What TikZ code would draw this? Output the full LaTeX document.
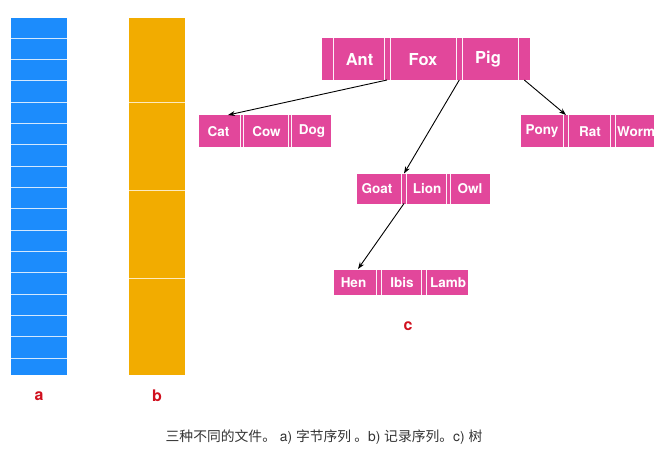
\documentclass[tikz,border=0pt]{standalone}
\usepackage{fontspec}
\setmainfont{TeX Gyre Heros}
\newfontfamily\cjk{Noto Sans CJK SC}
\usetikzlibrary{arrows.meta}
\definecolor{barblue}{HTML}{1C8CFC}
\definecolor{barorange}{HTML}{F2AC00}
\definecolor{recpink}{HTML}{E2479B}
\definecolor{labred}{HTML}{D0101E}
\definecolor{captiongray}{HTML}{333333}
\tikzset{
  rec/.style={draw=none, fill=recpink, inner sep=0pt, anchor=north west},
  sepline/.style={draw=white!92!recpink, line width=0.9pt},
  barline/.style={draw=white!80!barblue, line width=1pt},
  obarline/.style={draw=white!75!barorange, line width=1pt},
  rtxt/.style={text=white, font=\bfseries\fontsize{16.5}{16.5}\selectfont, inner sep=0pt},
  ltxt/.style={text=white, font=\bfseries\fontsize{13.5}{13.5}\selectfont, inner sep=0pt},
  lab/.style={text=labred, font=\bfseries\fontsize{16}{16}\selectfont, inner sep=0pt},
  ptr/.style={-{Stealth[length=7pt,width=5pt]}, line width=0.9pt, black},
}
\begin{document}
\begin{tikzpicture}[x=1pt,y=-1pt]
\useasboundingbox (0,0) rectangle (670,455);
% a) byte sequence
\node[fill=barblue, inner sep=0pt, anchor=north west, minimum width=56pt, minimum height=357pt] (bara) at (11,18) {};
\foreach \k in {0,...,15} {
  \draw[barline] (11,38.3+\k*21.33) -- (67,38.3+\k*21.33);
}
\node[lab] (la) at (39,396) {a};
% b) record sequence
\node[fill=barorange, inner sep=0pt, anchor=north west, minimum width=56pt, minimum height=357pt] (barb) at (129,18) {};
\foreach \yy in {102.7,190.7,278.3} {
  \draw[obarline] (129,\yy) -- (185,\yy);
}
\node[lab] (lb) at (157,396) {b};
% c) tree
% root
\node[rec, minimum width=208pt, minimum height=42pt] (root) at (322,38) {};
\foreach \xx in {333.5,384,390,456,462.5,518.5} {
  \draw[sepline] (\xx,38) -- (\xx,80);
}
\node[rtxt] (ant) at (359.5,59.5) {Ant};
\node[rtxt] (fox) at (423,59.5) {Fox};
\node[rtxt] (pig) at (488,59.5) {Pig};
\coordinate (r1) at (387,80);
\coordinate (r2) at (459.3,80);
\coordinate (r3) at (524.3,80);
% Cat Cow Dog
\node[rec, minimum width=132pt, minimum height=32pt] (n1) at (199,115) {};
\foreach \xx in {240,243,288,291} {
  \draw[sepline] (\xx,115) -- (\xx,147);
}
\node[ltxt] (cat) at (218.5,131.5) {Cat};
\node[ltxt] (cow) at (266.5,131.5) {Cow};
\node[ltxt] (dog) at (312,131.5) {Dog};
\coordinate (t1) at (228,115);
% Pony Rat Worm
\node[rec, minimum width=133pt, minimum height=32pt] (n2) at (521,115) {};
\foreach \xx in {563.5,568.5,610,615} {
  \draw[sepline] (\xx,115) -- (\xx,147);
}
\node[ltxt] (pony) at (542,131.5) {Pony};
\node[ltxt] (rat) at (590,131.5) {Rat};
\begin{scope}
\clip (615,115) rectangle (654,147);
\node[ltxt, anchor=west] (worm) at (617,131.5) {Worm};
\end{scope}
\coordinate (t3) at (566,115);
% Goat Lion Owl
\node[rec, minimum width=133pt, minimum height=30pt] (n3) at (357,173.5) {};
\foreach \xx in {401.7,406,446.7,450.7} {
  \draw[sepline] (\xx,173.5) -- (\xx,203.5);
}
\node[ltxt] (goat) at (377,188.5) {Goat};
\node[ltxt] (lion) at (427,188.5) {Lion};
\node[ltxt] (owl) at (470,188.5) {Owl};
\coordinate (t2) at (404,173.5);
\coordinate (r4) at (404,203.5);
% Hen Ibis Lamb
\node[rec, minimum width=134pt, minimum height=24.5pt] (n4) at (333.5,270) {};
\foreach \xx in {376.5,381.5,421.7,426.7} {
  \draw[sepline] (\xx,270) -- (\xx,294.5);
}
\node[ltxt] (hen) at (353.5,282.5) {Hen};
\node[ltxt] (ibis) at (402,282.5) {Ibis};
\begin{scope}
\clip (426.7,270) rectangle (467.5,294.5);
\node[ltxt, anchor=west] (lamb) at (430,282.5) {Lamb};
\end{scope}
\coordinate (t4) at (358,269);
% connectors
\draw[ptr] (r1) -- (t1);
\draw[ptr] (r2) -- (t2);
\draw[ptr] (r3) -- (t3);
\draw[ptr] (r4) -- (t4);
\node[lab] (lc) at (408,326) {c};
% caption
\node[text=captiongray, font=\fontsize{13.8}{13.8}\selectfont, inner sep=0pt] (cap) at (324,437) {{\cjk 三种不同的文件。} a) {\cjk 字节序列 。}b) {\cjk 记录序列。}c) {\cjk 树}};
\end{tikzpicture}
\end{document}
